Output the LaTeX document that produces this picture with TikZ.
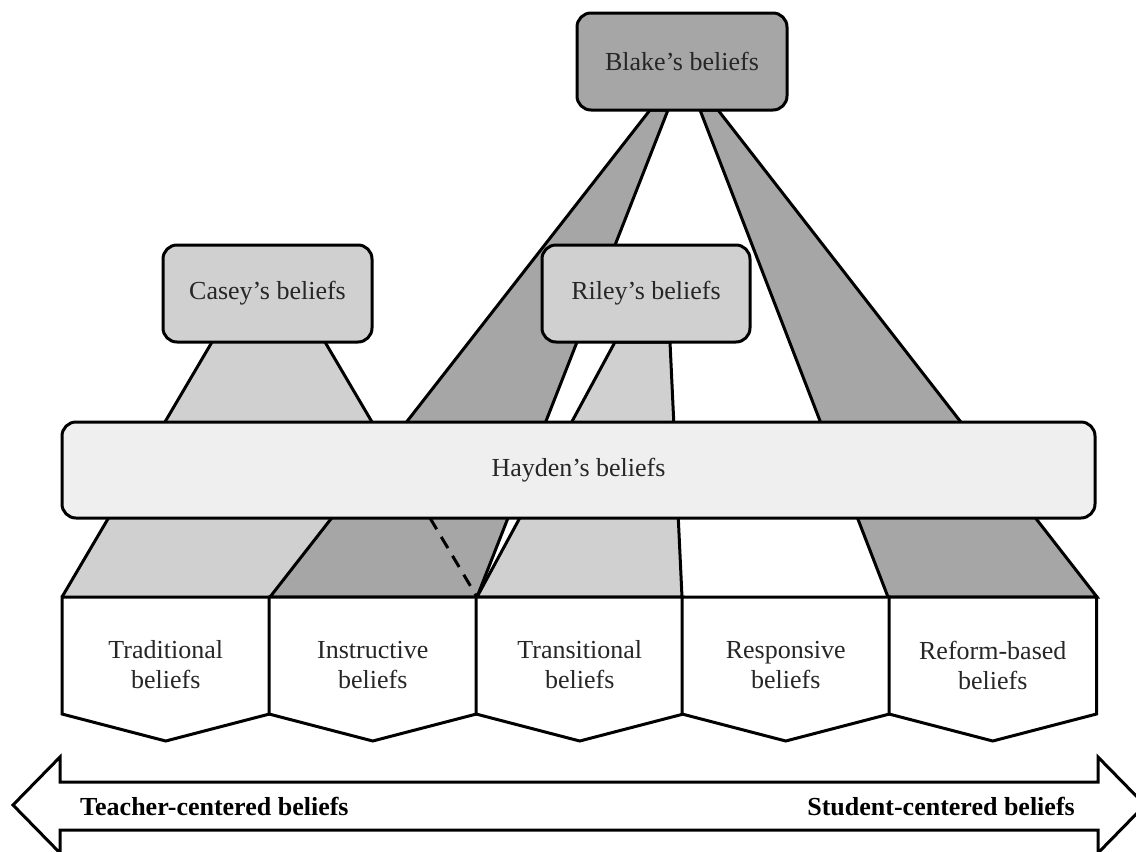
\documentclass[tikz,border=0pt]{standalone}
\usepackage{fontspec}
\setmainfont{Liberation Serif}
\definecolor{blakegray}{gray}{0.651}
\definecolor{softgray}{gray}{0.816}
\definecolor{palegray}{gray}{0.937}
\begin{document}
\begin{tikzpicture}[x=1pt,y=-1pt,
  outline/.style={draw=black,line width=3pt},
  band/.style={outline,miter limit=20},
  person/.style={outline,rounded corners=14pt,inner sep=0pt,outer sep=0pt,
    font=\fontsize{26}{30}\selectfont,text=black!85},
  category/.style={outline,fill=white},
  catlabel/.style={align=center,inner sep=0pt,
    font=\fontsize{26}{30}\selectfont,text=black!85},
  axislabel/.style={inner sep=0pt,font=\fontsize{26}{30}\selectfont\bfseries}]
\useasboundingbox (0,0) rectangle (1136,852);
\clip (0,0) rectangle (1136,852);

% bands linking each teacher to the belief categories
\fill[softgray] (212,342) -- (325,342) -- (477,597) -- (62,597) -- cycle;
\draw[band] (212,342) -- (62,597);
\draw[band] (325,342) -- (372,422);
\filldraw[band,fill=blakegray] (650,110) -- (668,110) -- (477,597) -- (270,597) -- cycle;
\filldraw[band,fill=softgray] (615,342) -- (670,342) -- (682,597) -- (477,597) -- cycle;
\filldraw[band,fill=blakegray] (700,110) -- (718,110) -- (1097,597) -- (888,597) -- cycle;
% hidden edge of Casey's band under Blake's band
\coordinate (hidtop) at (430,518);
\coordinate (hidbot) at (477,597);
\draw[line width=3pt,dash pattern=on 13pt off 9pt] (hidtop) -- (hidbot);

% belief categories
\foreach \x/\nm/\txt in {62/trad/{Traditional\\beliefs},
                         269/instr/{Instructive\\beliefs},
                         476/trans/{Transitional\\beliefs},
                         682/resp/{Responsive\\beliefs},
                         889/reform/{Reform-based\\beliefs}}{
  \pgfmathsetmacro{\xr}{\x+207.5}
  \pgfmathsetmacro{\xm}{\x+103.75}
  \draw[category] (\x,597) -- (\x,714) -- (\xm,741) -- (\xr,714) -- (\xr,597) -- cycle;
  \node[catlabel] (\nm) at (\xm,665) {\txt};
}

% teachers
\node[person,fill=palegray,minimum width=1033pt,minimum height=96pt] (hayden) at (578.5,470) {Hayden's beliefs};
\node[person,fill=softgray,minimum width=209pt,minimum height=97pt] (casey) at (267.5,293.5) {Casey's beliefs};
\node[person,fill=softgray,minimum width=208pt,minimum height=97pt] (riley) at (646,293.5) {Riley's beliefs};
\node[person,fill=blakegray,minimum width=210pt,minimum height=97pt] (blake) at (682,61.5) {Blake's beliefs};

% continuum arrow
\draw[outline,fill=white] (13,805) -- (60,757) -- (60,782) -- (1098,782) -- (1098,757)
  -- (1145,805) -- (1098,853) -- (1098,830) -- (60,830) -- (60,853) -- cycle;
\node[axislabel,anchor=west] (teacher) at (80,806) {Teacher-centered beliefs};
\node[axislabel,anchor=east] (student) at (1075,806) {Student-centered beliefs};
\end{tikzpicture}
\end{document}
